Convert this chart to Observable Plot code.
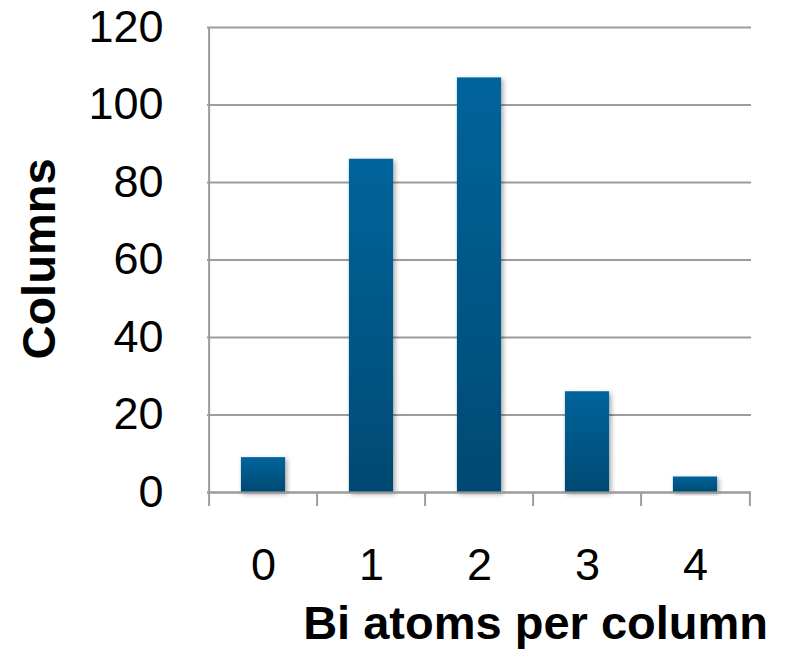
<!DOCTYPE html>
<html>
<head>
<meta charset="utf-8">
<script src="https://cdn.jsdelivr.net/npm/d3@7"></script>
<script src="https://cdn.jsdelivr.net/npm/@observablehq/plot@0.6"></script>
<style>
  html, body { margin: 0; padding: 0; background: #fff; }
  #chart { position: relative; width: 788px; height: 649px; }
  #chart svg { display: block; }
  .ylabel {
    position: absolute; left: 38px; top: 259px;
    transform: translate(-50%, -50%) rotate(-90deg);
    font: bold 47px "Liberation Sans", Arial, sans-serif; color: #000; white-space: nowrap;
  }
  .xlabel {
    position: absolute; right: 20px; top: 595px;
    font: bold 47px "Liberation Sans", Arial, sans-serif; color: #000; white-space: nowrap;
  }
</style>
</head>
<body>
<div id="chart">
  <div class="ylabel">Columns</div>
  <div class="xlabel">Bi atoms per column</div>
</div>
<script>
// Number of Bi atoms found in each atomic column
const atoms = ["0", "1", "2", "3", "4"];
const columns = [9, 86, 107, 26, 4];
const yTicks = [0, 20, 40, 60, 80, 100, 120];

const data = atoms.map((a, i) => ({atoms: a, columns: columns[i]}));

const width = 788, height = 649;
const marginLeft = 207, marginRight = 37, marginTop = 27, marginBottom = 157;
const bw = (width - marginLeft - marginRight) / atoms.length;
const inset = (bw - 45) / 2;
const gray = "#9c9c9c";
const font = "\"Liberation Sans\", Arial, sans-serif";

const plot = Plot.plot({
  width, height, marginLeft, marginRight, marginTop, marginBottom,
  style: {fontFamily: font, fontSize: "45px", color: "#000", background: "#fff"},
  x: {type: "band", domain: atoms, padding: 0, label: null},
  y: {domain: [0, 120], label: null},
  marks: [
    Plot.gridY(yTicks, {stroke: gray, strokeOpacity: 1, strokeWidth: 2}),
    Plot.ruleX([atoms[0]], {y1: 0, y2: 120, dx: -bw / 2, stroke: gray, strokeWidth: 2}),
    Plot.barY(data, {
      x: "atoms", y: "columns",
      insetLeft: inset, insetRight: inset,
      fill: "url(#barGrad)"
    }),
    Plot.ruleY([0], {stroke: gray, strokeWidth: 2}),
    // separators between categories below the baseline
    Plot.axisX(atoms, {tickSize: 14, tickFormat: () => "", dx: -bw / 2, stroke: gray, strokeWidth: 2}),
    Plot.axisX([atoms[atoms.length - 1]], {tickSize: 14, tickFormat: () => "", dx: bw / 2, stroke: gray, strokeWidth: 2}),
    Plot.axisX(atoms, {tickSize: 0, tickPadding: 56, fontSize: 45, label: null}),
    Plot.axisY(yTicks, {tickSize: 0, tickPadding: 44, fontSize: 45, label: null})
  ]
});

const svg = d3.select(plot);
const defs = svg.insert("defs", ":first-child");
const grad = defs.append("linearGradient")
  .attr("id", "barGrad").attr("x1", 0).attr("y1", 0).attr("x2", 0).attr("y2", 1);
grad.append("stop").attr("offset", "0%").attr("stop-color", "#01649c");
grad.append("stop").attr("offset", "100%").attr("stop-color", "#024a72");
defs.append("filter").attr("id", "barShadow")
  .attr("x", "-30%").attr("y", "-10%").attr("width", "160%").attr("height", "130%")
  .append("feDropShadow")
  .attr("dx", 2).attr("dy", 2).attr("stdDeviation", 2.5)
  .attr("flood-color", "#000").attr("flood-opacity", 0.35);
// each bar gets the vertical gradient plus a soft shadow
svg.selectAll("g[aria-label='bar'] rect").attr("filter", "url(#barShadow)");

document.getElementById("chart").prepend(plot);
</script>
</body>
</html>
